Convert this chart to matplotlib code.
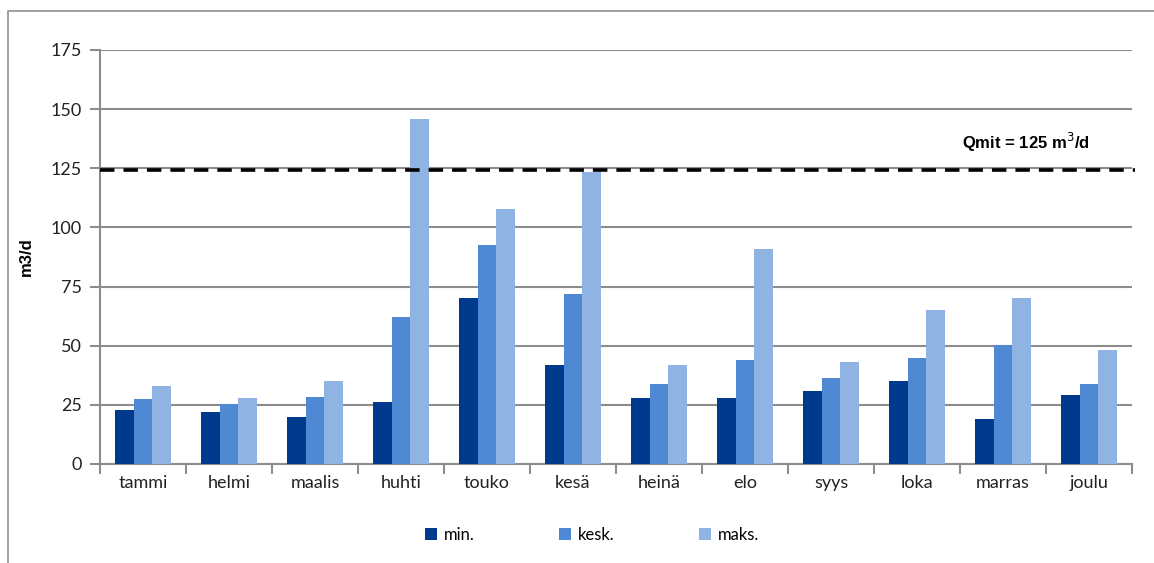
import matplotlib
matplotlib.use("Agg")
import matplotlib.pyplot as plt
import numpy as np
from matplotlib.lines import Line2D

months = ["tammi", "helmi", "maalis", "huhti", "touko", "kesä", "heinä", "elo", "syys", "loka", "marras", "joulu"]
min_vals = [23, 22, 20, 26, 70, 42, 28, 28, 31, 35, 19, 29]
kesk_vals = [27.6, 25.2, 28.5, 62, 92.5, 72, 34, 44, 36.5, 44.7, 50.5, 34]
maks_vals = [33, 28, 35, 146, 108, 123.5, 42, 90.7, 43, 65, 70, 48]
series_names = ["min.", "kesk.", "maks."]
qmit = 124.3
yticks = [0, 25, 50, 75, 100, 125, 150, 175]

colors = ["#003a8c", "#5089d3", "#8fb4e3"]

W, H = 1154, 563
fig = plt.figure(figsize=(W / 100, H / 100), dpi=100)
fig.patch.set_facecolor("white")
# outer frame: only left and top edges visible
fig.lines.append(Line2D([7.5 / W, 7.5 / W, 1.0], [0.0, 1 - 10.5 / H, 1 - 10.5 / H],
                        transform=fig.transFigure, color="#a0a0a0", linewidth=1.4))

ax = fig.add_axes([100 / W, 1 - 464 / H, 1032 / W, 414 / H])
x = np.arange(len(months))
bw = 0.22
for i, (vals, c, n) in enumerate(zip([min_vals, kesk_vals, maks_vals], colors, series_names)):
    ax.bar(x + (i - 1) * bw, vals, width=bw, color=c, label=n, zorder=3)

ax.set_xlim(-0.5, len(months) - 0.5)
ax.set_ylim(0, 175)
ax.set_yticks(yticks)
ax.set_yticklabels([str(v) for v in yticks], fontsize=13, family="Lato", color="#222222")
ax.yaxis.grid(True, color="#8c8c8c", linewidth=1.5, zorder=0)
ax.set_axisbelow(True)
ax.set_xticks(np.arange(-0.5, len(months) + 0.5, 1))
ax.set_xticklabels([])
ax.set_xticks(x, minor=True)
ax.set_xticklabels(months, minor=True, fontsize=13, family="Lato", color="#222222")
ax.tick_params(axis="x", which="major", length=7, color="#8c8c8c", width=1.5)
ax.tick_params(axis="x", which="minor", length=0, pad=8)
ax.tick_params(axis="y", length=7, color="#8c8c8c", width=1.5, pad=6)
for s in ["top", "right"]:
    ax.spines[s].set_visible(False)
for s in ["left", "bottom"]:
    ax.spines[s].set_color("#8c8c8c")
    ax.spines[s].set_linewidth(1.5)

ax.set_ylabel("m3/d", fontsize=12, fontweight="bold", family="Liberation Sans", labelpad=12)

ax.axhline(qmit, xmin=0, xmax=1.003, color="black", linestyle=(0, (4, 2.5)), linewidth=2.6, zorder=4, clip_on=False)
ax.text(10.26, 131, "Qmit = 125 m$^3$/d", fontsize=12, fontweight="bold", family="Liberation Sans",
        ha="center", va="bottom")

fig.legend(loc="center", bbox_to_anchor=(592 / W, 1 - 535 / H), ncol=3, frameon=False,
           prop={"family": "Lato", "size": 12}, columnspacing=5.1, handlelength=0.7,
           handleheight=0.7, handletextpad=0.4)

fig.savefig("out.png", dpi=100)
